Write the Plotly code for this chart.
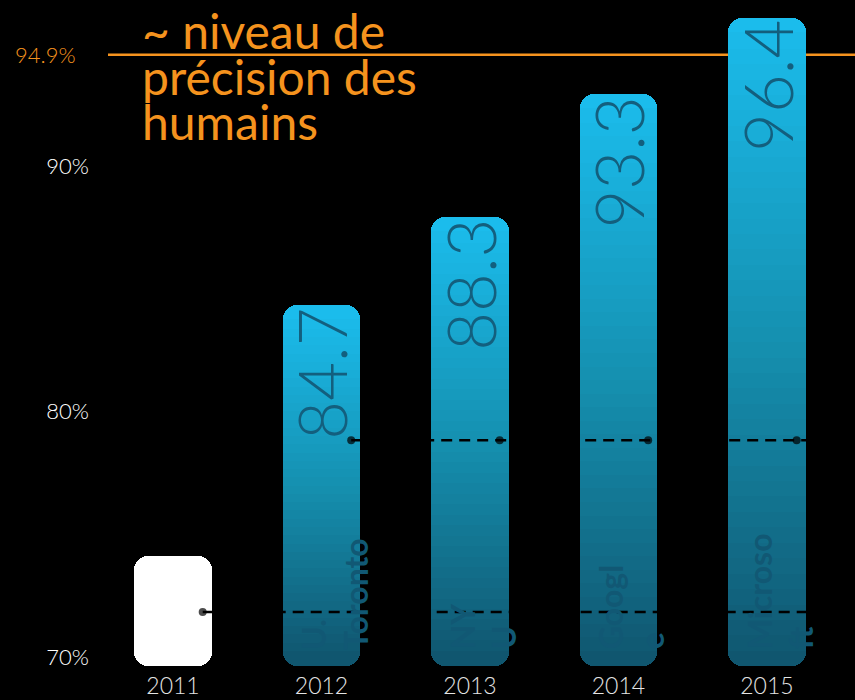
import plotly.graph_objects as go

# ---------------- data ----------------
years = [2011, 2012, 2013, 2014, 2015]
year_labels = ["2011", "2012", "2013", "2014", "2015"]
accuracy = [74.5, 84.7, 88.3, 93.3, 96.4]
value_labels = ["", "84.7", "88.3", "93.3", "96.4"]
team_labels = ["", "U.<br>Toronto", "NY<br>U", "Googl<br>e", "Microso<br>ft"]
human_level = 94.9
human_label = "94.9%"
title_lines = ["~ niveau de", "précision des", "humains"]
y_tick_vals = [70, 80, 90]
y_tick_text = ["70%", "80%", "90%"]
axis_base = 70
line_a_years = [2011]
line_a_level = 72.2
line_b_years = [2012, 2013, 2014, 2015]
line_b_level = 79.2

# ---------------- style ----------------
FONT = "Lato"
ORANGE = "#f5931e"
BAR_W = 0.52
CAP = 0.62         # axis units left uncovered at each end to show the rounding
OVL = 0.04         # overlap between slices to avoid seams
N_MID = 40
RADIUS = 14
DOT_OFF = 0.2


def lerp(c1, c2, t):
    return tuple(round(a + (b - a) * t) for a, b in zip(c1, c2))


def grad(t):
    stops = [(0.0, (16, 86, 111)), (0.5, (21, 144, 176)), (1.0, (27, 188, 236))]
    for (t0, c0), (t1, c1) in zip(stops[:-1], stops[1:]):
        if t <= t1:
            c = lerp(c0, c1, (t - t0) / (t1 - t0))
            return "rgb(%d,%d,%d)" % c
    return "rgb(%d,%d,%d)" % stops[-1][1]


def colors_for(t):
    return ["white" if y == 2011 else grad(t) for y in years]


fig = go.Figure()
heights = [v - axis_base for v in accuracy]
mids = [axis_base + h / 2 for h in heights]

# upper half, rounded at its top end
fig.add_trace(go.Bar(
    x=years, base=mids, y=[v - m for v, m in zip(accuracy, mids)], width=BAR_W,
    marker=dict(color=colors_for(1.0), cornerradius=RADIUS, line=dict(width=0)),
    hoverinfo="skip"))
# lower half, drawn downward so its bottom end is rounded
fig.add_trace(go.Bar(
    x=years, base=mids, y=[axis_base - m for m in mids], width=BAR_W,
    marker=dict(color=colors_for(0.0), cornerradius=RADIUS, line=dict(width=0)),
    hoverinfo="skip"))

# gradient slices covering the inner part
for k in range(N_MID):
    step = [(h - 2 * CAP) / N_MID for h in heights]
    bases = [axis_base + CAP + k * s for s in step]
    frac = (k + 0.5) / N_MID
    fig.add_trace(go.Bar(
        x=years, base=bases, y=[s + OVL for s in step], width=BAR_W,
        marker=dict(color=colors_for(0.02 + 0.96 * frac), line=dict(width=0)),
        hoverinfo="skip"))

# dashed black connector lines with dots
xa = [y + DOT_OFF for y in line_a_years] + [2015.65]
fig.add_trace(go.Scatter(
    x=xa, y=[line_a_level] * len(xa), mode="lines+markers",
    line=dict(color="black", width=2.5, dash="11px,7px"),
    marker=dict(color="black", size=[8] * len(line_a_years) + [0],
                line=dict(width=0)),
    hoverinfo="skip"))
xb = [y + DOT_OFF for y in line_b_years] + [2015.65]
fig.add_trace(go.Scatter(
    x=xb, y=[line_b_level] * len(xb), mode="lines+markers",
    line=dict(color="black", width=2.5, dash="11px,7px"),
    marker=dict(color="black", size=[8] * len(line_b_years) + [0],
                line=dict(width=0)),
    hoverinfo="skip"))

annotations = []
# value labels
for y, v, lab in zip(years, accuracy, value_labels):
    if lab:
        annotations.append(dict(
            x=y, y=v, xref="x", yref="y", text=lab, showarrow=False,
            textangle=-90, xanchor="center", yanchor="top", yshift=0,
            font=dict(family=FONT, size=67, weight=300, color="#135f7e")))
# team labels
for y, lab in zip(years, team_labels):
    if lab:
        annotations.append(dict(
            x=y, y=70.6, xref="x", yref="y", text=lab, showarrow=False,
            textangle=-90, xanchor="center", yanchor="bottom", xshift=13,
            align="left",
            font=dict(family=FONT, size=32, weight="bold",
                      color="rgb(17,88,116)")))
# human level label
annotations.append(dict(
    x=0, y=human_level, xref="paper", yref="y", text=human_label,
    showarrow=False, xanchor="right", yanchor="middle", xshift=-27,
    font=dict(family=FONT, size=22, weight=300, color=ORANGE)))
# title lines
for i, line in enumerate(title_lines):
    annotations.append(dict(
        x=(140 - 105) / 750, y=1, xref="paper", yref="paper", text=line,
        showarrow=False, xanchor="left", yanchor="top", yshift=0 - 45.5 * i,
        font=dict(family=FONT, size=48, color=ORANGE)))

fig.update_layout(
    width=855, height=700,
    margin=dict(l=105, r=0, t=0, b=30),
    paper_bgcolor="black", plot_bgcolor="rgba(0,0,0,0)",
    barmode="overlay", bargap=0, showlegend=False,
    annotations=annotations,
    shapes=[dict(type="line", xref="paper", x0=0.004, x1=1, yref="y",
                 y0=human_level, y1=human_level, layer="below",
                 line=dict(color=ORANGE, width=2.5))],
    xaxis=dict(range=[2010.542, 2015.593], tickvals=years, ticktext=year_labels,
               showgrid=False, zeroline=False, showline=False, ticks="",
               automargin=False,
               tickfont=dict(family=FONT, size=23, weight=300, color="#e4e4e4"),
               fixedrange=True),
    yaxis=dict(range=[69.842, 97.133], tickvals=y_tick_vals, ticktext=y_tick_text,
               showgrid=False, zeroline=False, showline=False, ticks="",
               automargin=False,
               ticklabelstandoff=15, ticklabelshift=-9,
               tickfont=dict(family=FONT, size=22, weight=300, color="white"),
               fixedrange=True),
)

fig.write_html("out.html")
